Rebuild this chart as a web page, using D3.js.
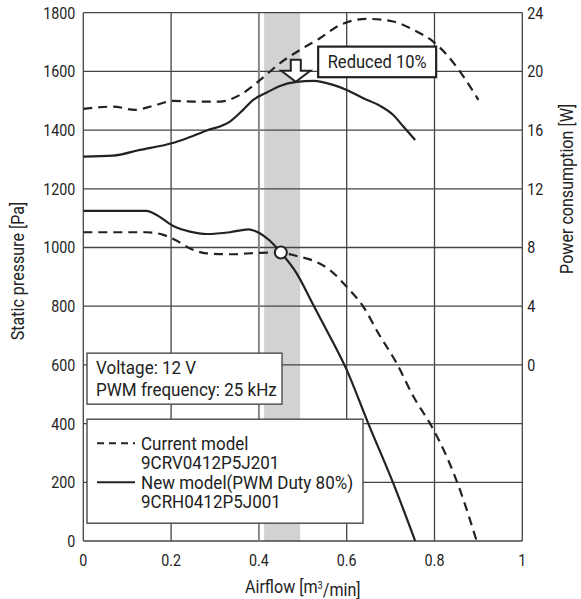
<!DOCTYPE html>
<html>
<head>
<meta charset="utf-8">
<script src="https://cdn.jsdelivr.net/npm/d3@7"></script>
<style>
  body { margin: 0; background: #fff; }
  text { font-family: Roboto, "Liberation Sans", sans-serif; fill: #222; }
</style>
</head>
<body>
<div id="chart"></div>
<script>
const width = 581
const height = 599
const margin = { left: 83.3, right: 58.7, top: 12.7, bottom: 58 }

// axes
const airflowTicks = [0, 0.2, 0.4, 0.6, 0.8, 1]
const pressureTicks = [0, 200, 400, 600, 800, 1000, 1200, 1400, 1600, 1800]
const powerTicks = [0, 4, 8, 12, 16, 20, 24]

// [airflow m3/min, static pressure Pa]
const currentPressure = [[0, 1052], [0.144, 1052], [0.182, 1043], [0.213, 1023], [0.243, 997], [0.281, 980],
  [0.334, 977], [0.402, 982], [0.448, 983], [0.486, 971], [0.524, 955], [0.562, 923], [0.6, 866],
  [0.638, 798], [0.672, 708], [0.714, 605], [0.752, 492], [0.794, 389], [0.828, 287], [0.858, 174], [0.896, 0]]
const newPressure = [[0, 1125], [0.144, 1125], [0.167, 1111], [0.205, 1073], [0.243, 1054], [0.281, 1046],
  [0.334, 1052], [0.376, 1062], [0.395, 1054], [0.425, 1023], [0.45, 983], [0.486, 912], [0.524, 804],
  [0.554, 719], [0.6, 583], [0.649, 401], [0.706, 197], [0.756, 0]]

// [airflow m3/min, power W]
const currentPower = [[0, 17.45], [0.068, 17.6], [0.118, 17.38], [0.159, 17.65], [0.205, 17.99], [0.258, 17.94],
  [0.311, 17.94], [0.357, 18.4], [0.403, 19.42], [0.448, 20.56], [0.494, 21.47], [0.539, 22.26], [0.585, 23.17],
  [0.646, 23.58], [0.706, 23.4], [0.752, 22.83], [0.797, 22.03], [0.828, 21.13], [0.866, 19.65], [0.9, 18.06]]
const newPower = [[0, 14.19], [0.068, 14.26], [0.129, 14.65], [0.201, 15.1], [0.236, 15.45], [0.281, 15.97],
  [0.334, 16.58], [0.364, 17.38], [0.387, 18.06], [0.418, 18.56], [0.448, 19.01], [0.486, 19.28], [0.524, 19.35],
  [0.569, 19.08], [0.6, 18.74], [0.638, 18.17], [0.676, 17.65], [0.706, 17.03], [0.729, 16.24], [0.756, 15.33]]

const operatingPoint = [0.45, 983]
const band = [0.412, 0.494]
const arrowAt = [0.484, 19.3]
const conditions = ['Voltage: 12 V', 'PWM frequency: 25 kHz']
const legendItems = [
  { dash: '7,5', lines: ['Current model', '9CRV0412P5J201'] },
  { dash: null, lines: ['New model(PWM Duty 80%)', '9CRH0412P5J001'] },
]

const ink = '#222'
const gridColor = '#444'

let x_scale = d3.scaleLinear().domain([0, 1]).range([margin.left, width - margin.right])
let y_scale = d3.scaleLinear().domain([0, 1800]).range([height - margin.bottom, margin.top])
// power axis: 0 W sits on the 600 Pa line, 24 W on the top
let y_power = d3.scaleLinear().domain([-12, 24]).range([height - margin.bottom, margin.top])

// place a horizontally squeezed text at x, y (condensed look)
const place = (sel, x, y, opts = {}) => sel
  .attr('transform', (d, i) => {
    const px = typeof x == 'function' ? x(d, i) : x
    const py = typeof y == 'function' ? y(d, i) : y
    return `translate(${px},${py})` + (opts.rot ? ` rotate(${opts.rot})` : '') + ` scale(${opts.sx || 0.84},1)`
  })
  .attr('dy', '0.35em')
  .style('font-size', (opts.size || 17) + 'px')

const svg = d3.select('#chart')
  .append('svg')
    .attr('width', width)
    .attr('height', height)

// shaded band
svg.append('rect')
  .attr('x', x_scale(band[0]))
  .attr('y', margin.top)
  .attr('width', x_scale(band[1]) - x_scale(band[0]))
  .attr('height', y_scale(0) - margin.top)
  .attr('fill', '#d1d2d4')

// grid
svg.append('g')
  .selectAll('line')
  .data(pressureTicks)
  .enter().append('line')
    .attr('x1', margin.left)
    .attr('x2', width - margin.right)
    .attr('y1', d => y_scale(d))
    .attr('y2', d => y_scale(d))
    .style('stroke', gridColor)
    .style('stroke-width', 1.3)
svg.append('g')
  .selectAll('line')
  .data(airflowTicks)
  .enter().append('line')
    .attr('x1', d => x_scale(d))
    .attr('x2', d => x_scale(d))
    .attr('y1', margin.top)
    .attr('y2', y_scale(0))
    .style('stroke', d => d == 0.4 ? '#888' : gridColor)
    .style('stroke-width', d => d == 0.4 ? 2 : 1.3)

// left axis labels
svg.append('g')
  .selectAll('text')
  .data(pressureTicks)
  .enter().append('text')
    .call(place, margin.left - 8, d => y_scale(d))
    .attr('text-anchor', 'end')
    .text(d => d)

// right axis labels
svg.append('g')
  .selectAll('text')
  .data(powerTicks)
  .enter().append('text')
    .call(place, width - margin.right + 5, d => y_power(d))
    .text(d => d)

// bottom axis labels
svg.append('g')
  .selectAll('text')
  .data(airflowTicks)
  .enter().append('text')
    .call(place, d => x_scale(d), y_scale(0) + 19)
    .attr('text-anchor', 'middle')
    .text(d => d)

// axis titles
const titleOpts = { size: 17.5, sx: 0.92 }
svg.append('text')
  .call(place, 18, y_scale(920), { ...titleOpts, rot: -90 })
  .attr('text-anchor', 'middle')
  .text('Static pressure [Pa]')
svg.append('text')
  .call(place, width - 14, y_power(12), { ...titleOpts, rot: -90 })
  .attr('text-anchor', 'middle')
  .text('Power consumption [W]')
const xTitle = svg.append('text')
  .call(place, x_scale(0.5), y_scale(0) + 46, titleOpts)
  .attr('text-anchor', 'middle')
xTitle.append('tspan').text('Airflow [m')
xTitle.append('tspan').attr('dy', '-0.4em').style('font-size', '10px').text('3')
xTitle.append('tspan').attr('dy', '0.4em').text('/min]')

// curves
const line = y => d3.line()
  .x(d => x_scale(d[0]))
  .y(d => y(d[1]))
  .curve(d3.curveMonotoneX)
const curves = [
  { data: currentPressure, y: y_scale, dash: '9,6' },
  { data: newPressure, y: y_scale, dash: null },
  { data: currentPower, y: y_power, dash: '9,6' },
  { data: newPower, y: y_power, dash: null },
]
svg.append('g')
  .selectAll('path')
  .data(curves)
  .enter().append('path')
    .attr('d', d => line(d.y)(d.data))
    .attr('fill', 'none')
    .style('stroke', ink)
    .style('stroke-width', 2.2)
    .style('stroke-dasharray', d => d.dash)

// operating point
svg.append('circle')
  .attr('cx', x_scale(operatingPoint[0]))
  .attr('cy', y_scale(operatingPoint[1]))
  .attr('r', 6)
  .attr('fill', '#fff')
  .style('stroke', ink)
  .style('stroke-width', 2)

// hollow down arrow
const ax = x_scale(arrowAt[0])
const ay = y_power(arrowAt[1])
const arrow = [[0, 0], [-14.5, -11], [-5, -11], [-5, -22], [5, -22], [5, -11], [14.5, -11]]
svg.append('path')
  .attr('d', d3.line()(arrow.map(p => [ax + p[0], ay + p[1]])) + 'Z')
  .attr('fill', '#fff')
  .style('stroke', ink)
  .style('stroke-width', 2)

// annotation box
const note = svg.append('g')
  .attr('transform', `translate(${x_scale(0.535)},${y_power(21.69)})`)
note.append('rect')
  .attr('width', 118)
  .attr('height', 30.6)
  .attr('fill', '#fff')
  .style('stroke', ink)
  .style('stroke-width', 2.2)
note.append('text')
  .call(place, 59, 15.3, { size: 18, sx: 0.92 })
  .attr('text-anchor', 'middle')
  .text('Reduced 10%')

// conditions box
const boxText = { size: 18.5, sx: 0.92 }
const cond = svg.append('g')
  .attr('transform', `translate(${margin.left + 3.7},${y_scale(640)})`)
cond.append('rect')
  .attr('width', 195)
  .attr('height', 51)
  .attr('fill', '#fff')
  .style('stroke', '#555')
  .style('stroke-width', 1.5)
cond.selectAll('text')
  .data(conditions)
  .enter().append('text')
    .call(place, 9, (d, i) => 14.5 + i * 21.5, boxText)
    .text(d => d)

// legend box
const legend = svg.append('g')
  .attr('transform', `translate(${margin.left + 3.7},${y_scale(415)})`)
legend.append('rect')
  .attr('width', 276)
  .attr('height', 104)
  .attr('fill', '#fff')
  .style('stroke', '#555')
  .style('stroke-width', 1.5)
const items = legend.selectAll('g')
  .data(legendItems)
  .enter().append('g')
    .attr('transform', (d, i) => `translate(0,${24 + i * 39})`)
items.append('line')
  .attr('x1', 10)
  .attr('x2', 48)
  .style('stroke', ink)
  .style('stroke-width', 2)
  .style('stroke-dasharray', d => d.dash)
items.selectAll('text')
  .data(d => d.lines)
  .enter().append('text')
    .call(place, 54, (d, i) => i * 19, boxText)
    .text(d => d)
</script>
</body>
</html>
